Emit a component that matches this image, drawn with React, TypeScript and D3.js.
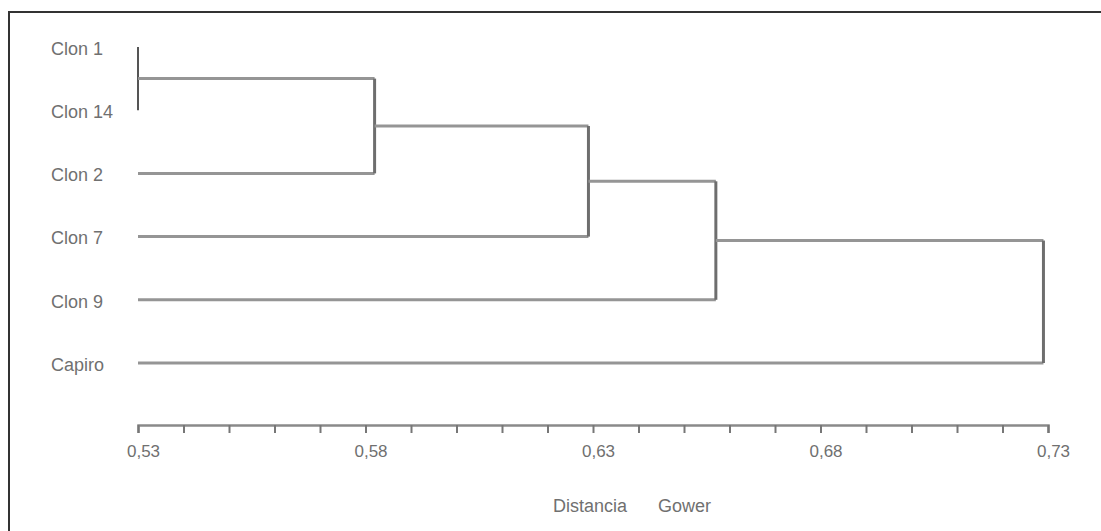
import React, { useEffect, useRef } from "react";
import * as d3 from "d3";

// leaf order top to bottom
const leaves = ["Clon 1", "Clon 14", "Clon 2", "Clon 7", "Clon 9", "Capiro"];

// agglomeration steps: mergeA joins mergeB at distance mergeDist
const mergeA = ["Clon 1", "M1", "M2", "M3", "M4"];
const mergeB = ["Clon 14", "Clon 2", "Clon 7", "Clon 9", "Capiro"];
const mergeDist = [0.53, 0.582, 0.629, 0.657, 0.729];

const majorTicks = [0.53, 0.58, 0.63, 0.68, 0.73];
const minorTicks = [0.53, 0.54, 0.55, 0.56, 0.57, 0.58, 0.59, 0.6, 0.61, 0.62, 0.63, 0.64, 0.65, 0.66, 0.67, 0.68, 0.69, 0.7, 0.71, 0.72, 0.73];
const axisTitle = ["Distancia", "Gower"];

const W = 1101;
const H = 531;
const FONT = "'Liberation Sans', Arial, sans-serif";

const App = () => {
  const ref = useRef<SVGGElement>(null);

  useEffect(() => {
    const g = d3.select(ref.current);
    g.selectAll("*").remove();

    const x = d3.scaleLinear().domain([0.53, 0.73]).range([138, 1048]);
    const y = d3.scalePoint<string>().domain(leaves).range([47, 363]);

    // frame (only top and left edges visible in the scan)
    g.append("path")
      .attr("d", `M9,${H + 5}V12H${W + 5}`)
      .attr("fill", "none")
      .attr("stroke", "#333")
      .attr("stroke-width", 2);

    // node positions
    const pos: Record<string, { x: number; y: number }> = {};
    leaves.forEach(l => (pos[l] = { x: x(0.53), y: y(l)! }));

    const branches = g.append("g").attr("fill", "none");
    mergeA.forEach((a, i) => {
      const b = mergeB[i];
      const hx = x(mergeDist[i]);
      const pa = pos[a];
      const pb = pos[b];
      // horizontal arms
      branches.append("path")
        .attr("d", `M${pa.x},${pa.y}H${hx}M${pb.x},${pb.y}H${hx}`)
        .attr("stroke", "#959595")
        .attr("stroke-width", 3);
      // vertical join
      branches.append("path")
        .attr("d", `M${hx},${pa.y}V${pb.y}`)
        .attr("stroke", i === 0 ? "#555" : "#6e6e6e")
        .attr("stroke-width", i === 0 ? 2 : 3);
      pos["M" + (i + 1)] = { x: hx, y: (pa.y + pb.y) / 2 };
    });

    // leaf labels
    g.append("g")
      .selectAll("text")
      .data(leaves)
      .join("text")
      .attr("x", 51)
      .attr("y", d => y(d)! + 3)
      .attr("dominant-baseline", "middle")
      .attr("font-family", FONT)
      .attr("font-size", 18)
      .attr("fill", "#707070")
      .text(d => d);

    // distance axis
    const fmt = d3.formatLocale({ decimal: ",", thousands: ".", grouping: [3], currency: ["", ""] }).format(".2f");
    const axis = d3.axisBottom(x)
      .tickValues(minorTicks)
      .tickSize(8)
      .tickFormat(d => (majorTicks.some(m => Math.abs(m - +d) < 1e-6) ? fmt(+d) : ""));

    const ax = g.append("g").attr("transform", "translate(0,425)").call(axis);
    ax.select(".domain").attr("stroke", "#8a8a8a").attr("stroke-width", 2.5);
    ax.selectAll(".tick line").attr("stroke", "#777").attr("stroke-width", 2);
    ax.selectAll(".tick text")
      .attr("font-family", FONT)
      .attr("font-size", 17)
      .attr("fill", "#707070")
      .attr("dx", 5)
      .attr("dy", 0)
      .attr("y", 28)
      .attr("dominant-baseline", "middle");

    g.append("g")
      .selectAll("text")
      .data(axisTitle)
      .join("text")
      .attr("x", (d, i) => (i === 0 ? 553 : 658))
      .attr("y", 507)
      .attr("dominant-baseline", "middle")
      .attr("font-family", FONT)
      .attr("font-size", 18)
      .attr("fill", "#707070")
      .text(d => d);
  }, []);

  return (
    <svg
      width={W}
      height={H}
      style={{ position: "absolute", left: 0, top: 0, background: "#fff" }}
    >
      <g ref={ref} />
    </svg>
  );
};

export default App;
